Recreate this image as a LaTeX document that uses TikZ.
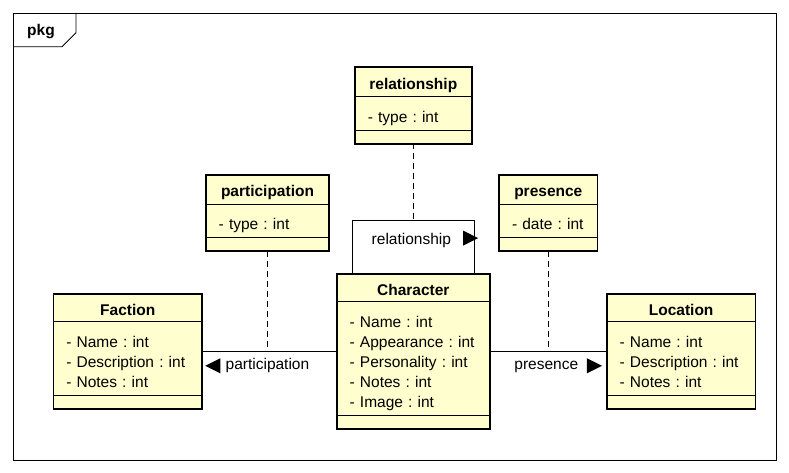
\documentclass[tikz,border=0pt]{standalone}
\usepackage{fontspec}
\setmainfont{Liberation Sans}
\usetikzlibrary{positioning,shapes.multipart}

\definecolor{classfill}{RGB}{254,254,206}
\newcommand{\umlfont}{\fontsize{15.5}{20}\selectfont\frenchspacing}
\newcommand{\headstrut}{\rule[-2pt]{0pt}{19.8pt}}
\newcommand{\attrstrut}{\rule{0pt}{21.7pt}}
\newcommand{\attrend}{\rule[-4.3pt]{0pt}{0pt}}

\begin{document}
\begin{tikzpicture}[
    x=1pt, y=-1pt,
    classnode/.style={rectangle split, rectangle split parts=3,
      rectangle split empty part height=3pt, rectangle split empty part depth=0pt,
      draw, line width=0.8pt,
      fill=classfill, outer sep=0pt, inner xsep=12.5pt, inner ysep=3.5pt,
      font=\umlfont, align=left,
      append after command={\pgfextra{\draw[line width=2.4pt]
        (\tikzlastnode.north west) rectangle (\tikzlastnode.south east);}}},
    linkline/.style={line width=0.8pt},
    assocline/.style={line width=0.8pt, dash pattern=on 6pt off 4pt},
    labelnode/.style={font=\umlfont, inner sep=0pt, text height=11.5pt, text depth=3.5pt},
  ]
  \useasboundingbox (0,0) rectangle (789,473);
  % frame
  \draw[linkline] (13,13) rectangle (776.7,460);
  \draw[linkline] (13,46.7) -- (62,46.7) -- (76,32.7) -- (76,13);
  \node[labelnode, font=\umlfont\bfseries] (pkg) at (41,31.5) {pkg};
  % classes
  \node[classnode, text width=127.3pt] (C) at (413.3,351.4)
    {\hfill\headstrut\textbf{Character}\hfill\null
     \nodepart{two}\attrstrut- Name : int\\- Appearance : int\\- Personality : int\\- Notes : int\\- Image : int\attrend};
  \node[classnode, text width=123pt]   (F) [left=135.4pt of C]
    {\hfill\headstrut\textbf{Faction}\hfill\null
     \nodepart{two}\attrstrut- Name : int\\- Description : int\\- Notes : int\attrend};
  \node[classnode, text width=123pt]   (L) [right=117.7pt of C]
    {\hfill\headstrut\textbf{Location}\hfill\null
     \nodepart{two}\attrstrut- Name : int\\- Description : int\\- Notes : int\attrend};
  \node[classnode, text width=91pt]    (R) [above=130.8pt of C]
    {\hfill\headstrut\textbf{relationship}\hfill\null
     \nodepart{two}\attrstrut- type : int\attrend};
  \node[classnode, text width=97.6pt]  (P) at (267.5,213)
    {\hfill\headstrut\textbf{participation}\hfill\null
     \nodepart{two}\attrstrut- type : int\attrend};
  \node[classnode, text width=72.6pt]  (PR) at (548.3,213)
    {\hfill\headstrut\textbf{presence}\hfill\null
     \nodepart{two}\attrstrut- date : int\attrend};
  % associations
  \draw[linkline] (F) -- coordinate[midway] (fc)
    node[midway, labelnode, below=6.5pt, xshift=-2pt] (plbl) {participation} (C);
  \fill ([xshift=-5pt, yshift=7.5pt]plbl.west) -- ++(0,15) -- ++(-15,-7.5) -- cycle;
  \draw[assocline] (P) -- (P |- fc);
  \draw[linkline] (C) -- coordinate[midway] (cl)
    node[midway, labelnode, below=6.5pt, xshift=-2pt] (prlbl) {presence} (L);
  \fill ([xshift=8.4pt, yshift=7.5pt]prlbl.east) -- ++(0,15) -- ++(15,-7.5) -- cycle;
  \draw[assocline] (PR) -- (PR |- cl);
  \coordinate (rl) at ([xshift=15.1pt, yshift=53.9pt]C.north west);
  \coordinate (rr) at ([xshift=-15pt, yshift=53.9pt]C.north east);
  \draw[linkline] ([xshift=15.1pt]C.north west) -- (rl)
    -- node[midway, labelnode, below=12pt, xshift=-2pt] (rlbl) {relationship} (rr)
    -- ([xshift=-15pt]C.north east);
  \fill ([xshift=11.7pt, yshift=9.5pt]rlbl.east) -- ++(0,15) -- ++(15,-7.5) -- cycle;
  \draw[assocline] (R) -- (R |- rl);
\end{tikzpicture}
\end{document}
